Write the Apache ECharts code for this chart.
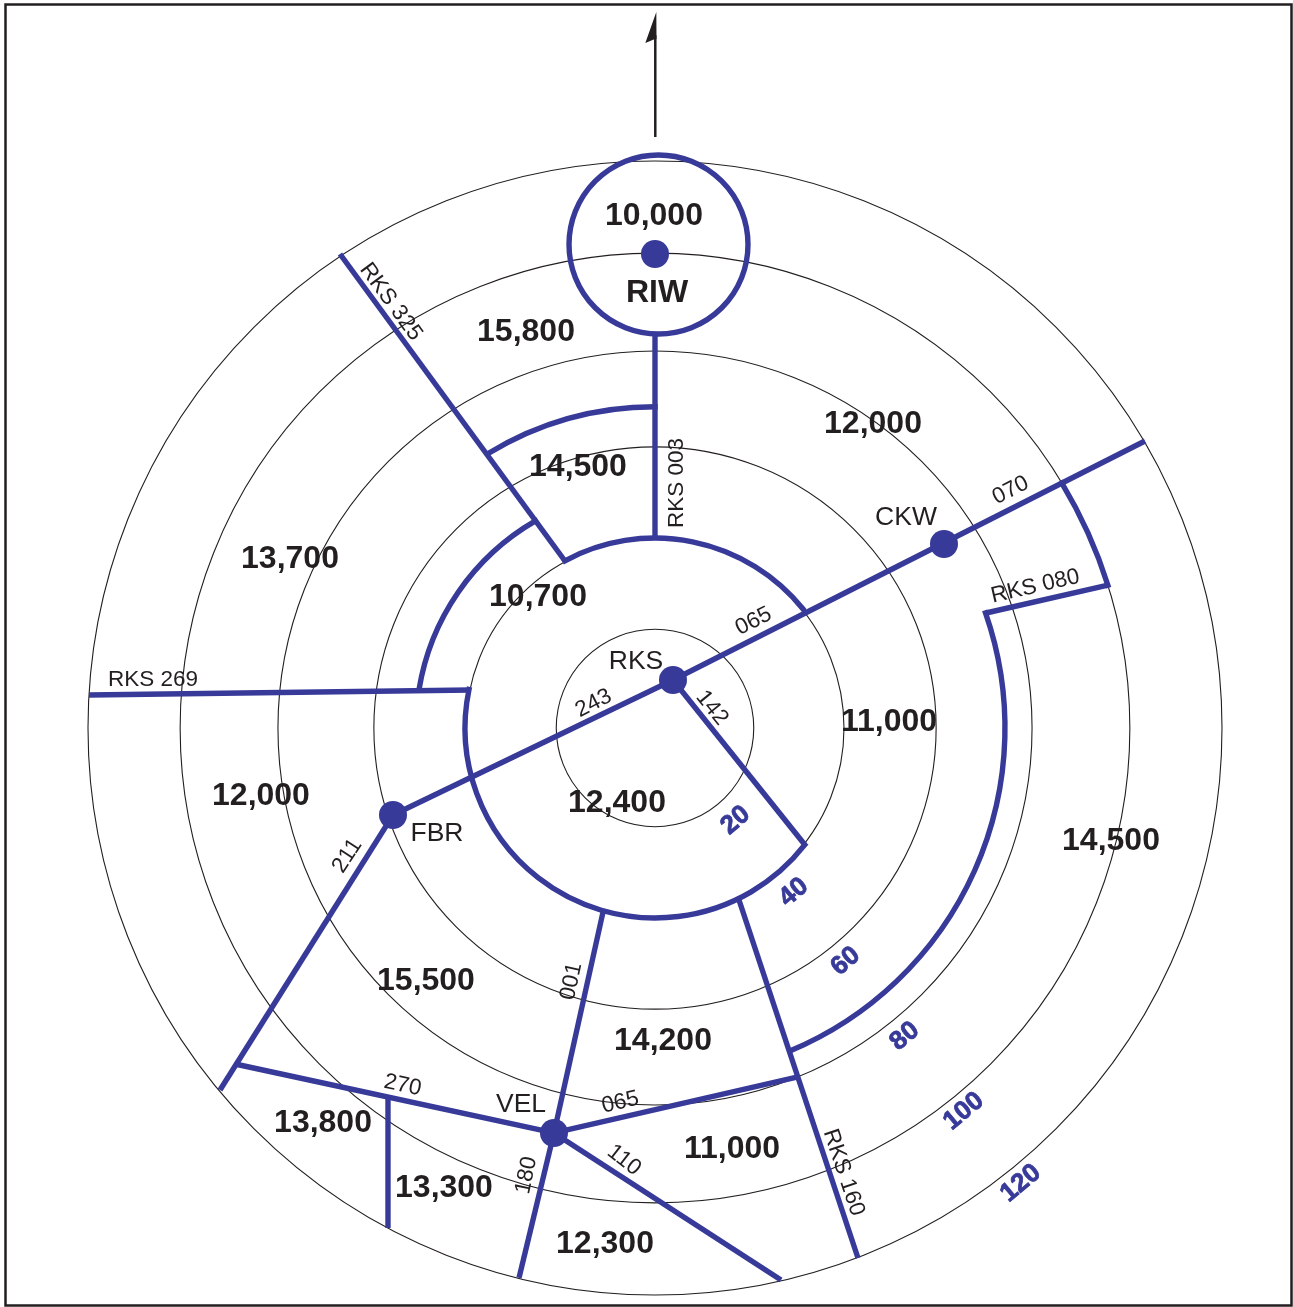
<!DOCTYPE html>
<html>
<head>
<meta charset="utf-8">
<script src="https://cdn.jsdelivr.net/npm/echarts@6/dist/echarts.min.js"></script>
<style>html,body{margin:0;padding:0;background:#fff}#c{width:1293px;height:1307px}</style>
</head>
<body>
<div id="c"></div>
<script>
// All positions are nautical miles east / north of the chart centre.
const ringDistances = [20.9, 40.0, 59.5, 79.8, 100.5, 120];

// [east, north, name]
const fixes = [
  [3.81, 10.16, 'RKS'], [61.16, 38.94, 'CKW'], [-55.45, -18.41, 'FBR'],
  [-21.38, -85.71, 'VEL'], [0, 100.32, 'RIW']
];

const routes = [
  [[3.81, 10.16], [103.70, 60.74]],
  [[3.81, 10.16], [-55.45, -18.41]],
  [[3.81, 10.16], [31.75, -24.76]],
  [[-55.45, -18.41], [-92.06, -76.61]],
  [[-88.89, -71.11], [-21.38, -85.71]],
  [[-21.38, -85.71], [30.26, -73.86]],
  [[-21.38, -85.71], [26.67, -116.83]],
  [[-21.38, -85.71], [-28.78, -116.40]],
  [[-21.38, -85.71], [-11.0, -38.94]],
  [[-56.51, -78.10], [-56.51, -105.82]],
  [[17.78, -36.40], [42.96, -112.17]],
  [[0, 83.18], [0, 40.21]],
  [[-66.67, 100.32], [-19.05, 35.34]],
  [[-119.79, 6.98], [-38.94, 8.04]],
  [[95.87, 30.26], [70.05, 24.34]]
];

// [radius, from bearing, to bearing], clockwise round the chart centre
const boundaryArcs = [
  [40.2, 331.7, 411.1],
  [40.2, 128, 281.7],
  [50.6, 279.2, 330],
  [68.0, 328.7, 360],
  [74.07, 70.8, 157.25],
  [100.5, 58.96, 72.5]
];

// [east, north, radius]
const riwCircle = [[0.74, 102.33, 18.94]];

const northArrowShaft = [[0.06, 125.07], [0.06, 146.6]];
const northArrowHead = [[0.28, 151.53], [-2.05, 144.97], [0, 145.82], [0.32, 145.82]];

// [east, north, text]
const altitudeLabels = [
  [-0.21, 108.78, '10,000'], [0.42, 92.49, 'RIW'], [-27.30, 84.23, '15,800'],
  [-16.30, 55.66, '14,500'], [46.14, 64.76, '12,000'], [-77.25, 36.19, '13,700'],
  [-24.76, 28.15, '10,700'], [49.52, 1.69, '11,000'], [-83.39, -13.97, '12,000'],
  [-8.04, -15.45, '12,400'], [96.51, -23.49, '14,500'], [-48.47, -53.12, '15,500'],
  [1.69, -65.82, '14,200'], [16.30, -88.68, '11,000'], [-70.26, -83.17, '13,800'],
  [-44.66, -96.93, '13,300'], [-10.58, -108.78, '12,300']
];

const fixLabels = [
  [-4.02, 14.39, 'RKS'], [53.12, 44.87, 'CKW'], [-46.14, -22.01, 'FBR'], [-28.36, -79.37, 'VEL']
];

// [east, north, text, rotation]
const radialLabels = [
  [4.23, 51.85, 'RKS 003', 90], [-55.66, 90.37, 'RKS 325', -53.8], [-106.24, 10.58, 'RKS 269', 0],
  [80.42, 30.26, 'RKS 080', 13], [40.21, -93.97, 'RKS 160', -71.6], [75.13, 50.58, '070', 27],
  [20.74, 22.86, '065', 27], [-13.12, 5.50, '243', 27], [12.28, 4.44, '142', -51],
  [-65.40, -26.88, '211', 57], [-17.99, -53.54, '001', 77.5], [-53.33, -75.34, '270', -12],
  [-7.41, -78.94, '065', 13], [-6.35, -91.22, '110', -38], [-27.51, -94.60, '180', 78]
];

const distanceLabels = [
  [16.93, -19.68, '20'], [29.21, -34.92, '40'], [40.21, -49.52, '60'],
  [52.70, -65.40, '80'], [65.19, -81.27, '100'], [77.25, -96.51, '120']
];

const BLUE = '#373a98', INK = '#231f20';
const SANS = '"Liberation Sans", Arial, sans-serif';
const NARROW = '"Liberation Sans Narrow", "Liberation Sans", sans-serif';
const ROUTE_WIDTH = 5.4;

function arcSeries(data, width, color, cap, z) {
  return {
    type: 'custom', coordinateSystem: 'cartesian2d', silent: true, z: z, data: data,
    renderItem: function (params, api) {
      const c = api.coord([0, 0]);
      const r = api.size([api.value(0), 0])[0];
      return { type: 'arc',
        shape: { cx: c[0], cy: c[1], r: r,
          startAngle: (api.value(1) - 90) * Math.PI / 180,
          endAngle: (api.value(2) - 90) * Math.PI / 180, clockwise: true },
        style: { fill: 'none', stroke: color, lineWidth: width, lineCap: cap } };
    }
  };
}

function labelSeries(rows, font, size, weight, color, defaultRot, extra) {
  return {
    type: 'scatter', silent: true, z: 10, symbolSize: 1, clip: false,
    itemStyle: { color: 'transparent', opacity: 1 },
    data: rows.map(function (r) {
      return { value: [r[0], r[1]], name: r[2],
        label: { rotate: r[3] !== undefined ? r[3] : defaultRot } };
    }),
    label: Object.assign({ show: true, position: 'inside', align: 'center', verticalAlign: 'middle',
      formatter: '{b}', fontFamily: font, fontSize: size, fontWeight: weight, color: color }, extra || {})
  };
}

const series = [];
series.push(arcSeries(ringDistances.map(function (d) { return [d, 0, 360]; }), 1.1, INK, 'butt', 1));
routes.forEach(function (seg) {
  series.push({ type: 'line', data: seg, symbol: 'none', silent: true, clip: false, z: 3,
    lineStyle: { color: BLUE, width: ROUTE_WIDTH, cap: 'butt', opacity: 1 } });
});
series.push(arcSeries(boundaryArcs, ROUTE_WIDTH, BLUE, 'square', 3));
series.push({
  type: 'custom', coordinateSystem: 'cartesian2d', silent: true, z: 3, data: riwCircle,
  renderItem: function (params, api) {
    const c = api.coord([api.value(0), api.value(1)]);
    return { type: 'circle', shape: { cx: c[0], cy: c[1], r: api.size([api.value(2), 0])[0] },
      style: { fill: 'none', stroke: BLUE, lineWidth: ROUTE_WIDTH } };
  }
});
series.push({ type: 'line', data: northArrowShaft, symbol: 'none', silent: true, clip: false, z: 3,
  lineStyle: { color: INK, width: 2.5 } });
series.push({
  type: 'custom', coordinateSystem: 'cartesian2d', silent: true, z: 3, data: [[0, 0]],
  renderItem: function (params, api) {
    return { type: 'polygon', shape: { points: northArrowHead.map(function (p) { return api.coord(p); }) },
      style: { fill: INK } };
  }
});
series.push({
  type: 'scatter', silent: true, z: 5, symbol: 'circle', symbolSize: 28, clip: false,
  itemStyle: { color: BLUE, opacity: 1 },
  data: fixes.map(function (f) { return [f[0], f[1]]; })
});
series.push(labelSeries(altitudeLabels, SANS, 32, 'bold', INK, 0, { offset: [0, 2] }));
series.push(labelSeries(fixLabels, SANS, 26.5, 'normal', INK, 0, { offset: [0, 2] }));
series.push(labelSeries(radialLabels, SANS, 22.5, 'normal', INK, 0, { offset: [0, 1.5] }));
series.push(labelSeries(distanceLabels, NARROW, 26, 'bold', BLUE, 40,
  { textBorderColor: BLUE, textBorderWidth: 0.8, offset: [1, 0] }));

const PX_PER_NM = 4.725;
const chart = echarts.init(document.getElementById('c'), null, { renderer: 'canvas' });
chart.setOption({
  animation: false,
  backgroundColor: '#ffffff',
  grid: { left: 0, right: 0, top: 0, bottom: 0, containLabel: false },
  xAxis: { type: 'value', show: false, min: -655 / PX_PER_NM, max: 638 / PX_PER_NM },
  yAxis: { type: 'value', show: false, min: -579 / PX_PER_NM, max: 728 / PX_PER_NM },
  tooltip: { show: false },
  graphic: [{ type: 'rect', z: 20, silent: true,
    shape: { x: 5.5, y: 4.5, width: 1286, height: 1301 },
    style: { fill: 'none', stroke: INK, lineWidth: 2.5 } }],
  series: series
});
</script>
</body>
</html>
